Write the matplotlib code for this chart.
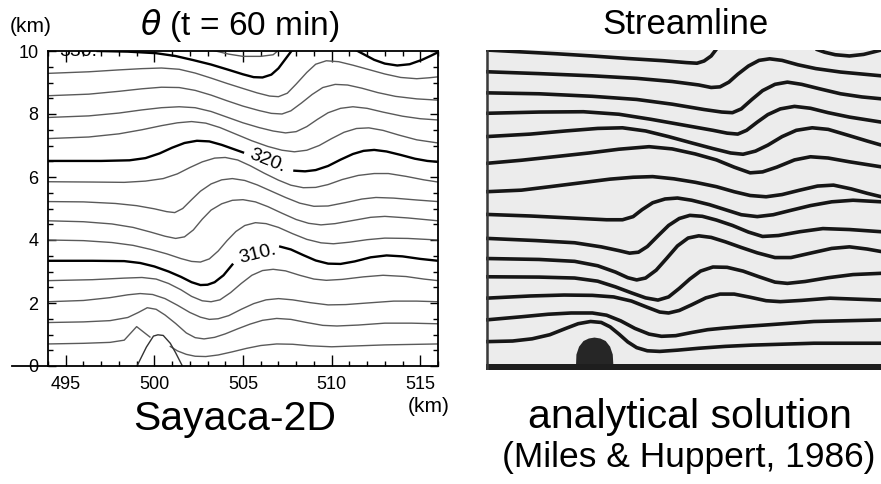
import matplotlib
matplotlib.use("Agg")
import matplotlib.pyplot as plt
from matplotlib.lines import Line2D
from matplotlib.ticker import MultipleLocator

plt.rcParams['font.family'] = ['Liberation Sans', 'DejaVu Sans']
plt.rcParams['mathtext.fontset'] = 'dejavusans'

# ---- left panel: potential temperature contours (x km, z km) ----
th302a = [(494.0, 0.70), (496.0, 0.72), (497.5, 0.75), (498.3, 0.82), (499.0, 1.25), (499.75, 0.92)]
th302b = [(500.9, 0.62), (501.3, 0.48), (501.8, 0.37), (502.3, 0.31), (502.9, 0.30), (503.6, 0.35),
          (504.4, 0.45), (505.2, 0.56), (506.0, 0.65), (506.9, 0.70), (507.8, 0.69), (508.8, 0.64),
          (510.0, 0.61), (511.5, 0.64), (513.0, 0.67), (516.0, 0.70)]
th304 = [(494.0, 1.38), (496.0, 1.40), (497.5, 1.44), (498.5, 1.54), (499.1, 1.70), (499.6, 1.85),
         (500.1, 1.80), (500.6, 1.62), (501.2, 1.35), (501.8, 1.05), (502.3, 0.90), (502.8, 0.86),
         (503.4, 0.91), (504.0, 1.02), (504.7, 1.18), (505.4, 1.33), (506.1, 1.45), (506.9, 1.51),
         (507.7, 1.48), (508.6, 1.38), (509.5, 1.29), (510.3, 1.27), (511.5, 1.30), (513.0, 1.36),
         (514.5, 1.36), (516.0, 1.34)]
th306 = [(494.0, 2.04), (496.0, 2.08), (497.5, 2.17), (498.5, 2.26), (499.2, 2.30), (499.9, 2.27),
         (500.6, 2.14), (501.3, 1.93), (502.0, 1.70), (502.6, 1.55), (503.1, 1.48), (503.6, 1.50),
         (504.2, 1.60), (504.9, 1.80), (505.6, 1.98), (506.3, 2.10), (507.0, 2.14), (507.8, 2.10),
         (508.8, 2.01), (509.8, 1.94), (510.8, 1.95), (512.0, 2.00), (513.5, 2.06), (514.8, 2.06),
         (516.0, 2.04)]
th308 = [(494.0, 2.71), (496.5, 2.74), (498.3, 2.79), (499.3, 2.81), (500.1, 2.76), (500.8, 2.62),
         (501.5, 2.42), (502.1, 2.21), (502.7, 2.07), (503.2, 2.04), (503.7, 2.10), (504.3, 2.33),
         (504.9, 2.62), (505.5, 2.88), (506.1, 3.03), (506.7, 3.07), (507.4, 3.02), (508.2, 2.88),
         (509.0, 2.76), (509.7, 2.72), (510.6, 2.75), (511.8, 2.83), (512.9, 2.88), (514.2, 2.84),
         (515.2, 2.76), (516.0, 2.71)]
th310a = [(494.0, 3.34), (496.5, 3.34), (498.3, 3.33), (499.2, 3.27), (500.0, 3.16), (500.8, 3.00),
          (501.5, 2.83), (502.1, 2.66), (502.6, 2.57), (503.0, 2.58), (503.4, 2.66), (503.9, 2.88),
          (504.4, 3.22)]
th310b = [(507.1, 3.79), (507.7, 3.70), (508.4, 3.52), (509.1, 3.35), (509.8, 3.25), (510.5, 3.24),
          (511.3, 3.32), (512.2, 3.45), (513.1, 3.51), (514.0, 3.48), (515.0, 3.40), (516.0, 3.34)]
th312 = [(494.0, 4.00), (496.0, 3.98), (497.6, 3.92), (498.8, 3.83), (499.8, 3.70), (500.7, 3.56),
         (501.5, 3.41), (502.1, 3.32), (502.6, 3.30), (503.1, 3.40), (503.6, 3.65), (504.1, 3.98),
         (504.6, 4.27), (505.1, 4.46), (505.7, 4.55), (506.3, 4.52), (507.0, 4.40), (507.8, 4.20),
         (508.6, 4.02), (509.4, 3.91), (510.1, 3.88), (511.0, 3.93), (512.0, 4.01), (513.0, 4.06),
         (514.3, 4.05), (516.0, 4.00)]
th314 = [(494.0, 4.61), (496.0, 4.58), (497.6, 4.51), (498.8, 4.40), (499.8, 4.25), (500.6, 4.12),
         (501.2, 4.05), (501.7, 4.10), (502.2, 4.32), (502.7, 4.66), (503.2, 4.95), (503.8, 5.15),
         (504.4, 5.26), (505.0, 5.28), (505.7, 5.21), (506.4, 5.06), (507.2, 4.85), (508.0, 4.65),
         (508.7, 4.53), (509.4, 4.48), (510.2, 4.52), (511.2, 4.62), (512.2, 4.72), (513.0, 4.75),
         (514.3, 4.70), (516.0, 4.61)]
th316 = [(494.0, 5.22), (496.0, 5.21), (497.8, 5.16), (499.0, 5.09), (500.0, 4.99), (500.7, 4.90),
         (501.15, 4.87), (501.6, 5.00), (502.1, 5.28), (502.6, 5.55), (503.2, 5.78), (503.8, 5.91),
         (504.4, 5.95), (505.1, 5.89), (505.8, 5.75), (506.6, 5.55), (507.4, 5.35), (508.2, 5.17),
         (509.0, 5.07), (509.8, 5.08), (510.8, 5.19), (511.7, 5.30), (512.5, 5.35), (513.5, 5.33),
         (514.8, 5.27), (516.0, 5.22)]
th318 = [(494.0, 5.85), (496.5, 5.84), (498.3, 5.83), (499.5, 5.87), (500.5, 5.95), (501.3, 6.10),
         (502.0, 6.30), (502.7, 6.48), (503.4, 6.60), (504.0, 6.62), (504.7, 6.54), (505.4, 6.36),
         (506.2, 6.12), (507.0, 5.90), (507.7, 5.74), (508.4, 5.66), (509.1, 5.67), (509.8, 5.76),
         (510.6, 5.92), (511.5, 6.05), (512.4, 6.11), (513.2, 6.11), (514.2, 6.02), (515.2, 5.91),
         (516.0, 5.84)]
th320a = [(494.0, 6.51), (497.0, 6.51), (498.6, 6.53), (499.5, 6.60), (500.3, 6.75), (501.0, 6.93),
          (501.7, 7.08), (502.4, 7.15), (503.1, 7.13), (503.8, 7.02), (504.4, 6.90), (505.0, 6.78)]
th320b = [(507.9, 6.20), (508.5, 6.18), (509.1, 6.22), (509.8, 6.35), (510.5, 6.55), (511.2, 6.73),
          (511.8, 6.83), (512.4, 6.86), (513.1, 6.81), (513.9, 6.70), (514.7, 6.58), (515.4, 6.51),
          (516.0, 6.48)]
th322 = [(494.0, 7.22), (496.3, 7.27), (498.0, 7.37), (499.3, 7.50), (500.4, 7.63), (501.3, 7.72),
         (502.1, 7.76), (502.9, 7.71), (503.7, 7.57), (504.6, 7.36), (505.5, 7.15), (506.4, 6.97),
         (507.2, 6.85), (507.9, 6.80), (508.6, 6.85), (509.3, 7.00), (510.0, 7.22), (510.7, 7.42),
         (511.4, 7.54), (512.1, 7.56), (512.9, 7.48), (513.8, 7.33), (514.8, 7.18), (516.0, 7.08)]
th324 = [(494.0, 7.89), (496.3, 7.94), (498.0, 8.03), (499.3, 8.13), (500.4, 8.20), (501.4, 8.23),
         (502.3, 8.20), (503.2, 8.08), (504.1, 7.90), (505.0, 7.72), (505.9, 7.57), (506.7, 7.46),
         (507.4, 7.40), (508.0, 7.44), (508.6, 7.60), (509.2, 7.83), (509.8, 8.04), (510.5, 8.18),
         (511.2, 8.23), (512.0, 8.18), (512.9, 8.06), (514.0, 7.93), (515.0, 7.85), (516.0, 7.81)]
th326 = [(494.0, 8.58), (496.3, 8.63), (498.0, 8.72), (499.3, 8.80), (500.4, 8.85), (501.4, 8.84),
         (502.3, 8.75), (503.2, 8.60), (504.1, 8.42), (505.0, 8.25), (505.9, 8.11), (506.6, 8.02),
         (507.2, 8.00), (507.7, 8.10), (508.3, 8.35), (508.9, 8.62), (509.5, 8.84), (510.2, 8.94),
         (510.9, 8.92), (511.7, 8.82), (512.6, 8.68), (513.6, 8.56), (514.8, 8.48), (516.0, 8.44)]
th328 = [(494.0, 9.29), (496.3, 9.34), (498.0, 9.40), (499.3, 9.44), (500.4, 9.46), (501.4, 9.42),
         (502.3, 9.30), (503.2, 9.14), (504.1, 8.97), (505.0, 8.81), (505.8, 8.67), (506.5, 8.57),
         (507.0, 8.55), (507.5, 8.66), (508.0, 8.95), (508.6, 9.32), (509.1, 9.58), (509.7, 9.69),
         (510.4, 9.66), (511.2, 9.55), (512.1, 9.41), (513.0, 9.27), (513.9, 9.16), (514.8, 9.12),
         (515.5, 9.15), (516.0, 9.18)]
th330a = [(496.8, 10.0), (498.5, 9.98), (500.1, 9.93), (501.2, 9.84), (502.2, 9.71), (503.2, 9.57),
          (504.2, 9.40), (505.0, 9.26), (505.6, 9.17), (506.1, 9.16), (506.6, 9.25), (507.0, 9.45),
          (507.4, 9.75), (507.8, 10.05)]
th330b = [(511.3, 10.05), (511.8, 9.90), (512.4, 9.72), (513.0, 9.60), (513.7, 9.54), (514.4, 9.58),
          (515.1, 9.72), (515.6, 9.85), (516.0, 9.96)]
th332 = [(503.3, 10.02), (504.2, 9.90), (505.0, 9.83), (506.0, 9.83), (506.7, 9.88), (507.0, 10.02)]

terrain = [(499.02, 0.0), (499.55, 0.6), (499.95, 0.95), (500.2, 0.99), (500.5, 0.97),
           (500.9, 0.72), (501.2, 0.42), (501.58, 0.0)]

thin_lines = [th302a, th302b, th304, th306, th308, th312, th314, th316, th318,
              th322, th324, th326, th328, th332]
thick_lines = [th310a, th310b, th320a, th320b, th330a, th330b]

# contour labels: text, x, z, rotation
clabels = [("310.", 505.8, 3.55, 14), ("320.", 506.4, 6.50, -22), ("330.", 495.7, 10.0, 0)]

# ---- right panel: analytical streamlines ----
sl01a = [(494.0, 9.97), (496.0, 9.91), (498.0, 9.85), (500.0, 9.78), (502.0, 9.70), (504.0, 9.63),
         (505.3, 9.57), (505.9, 9.55), (506.3, 9.62), (506.7, 9.78), (507.0, 10.0)]
sl01b = [(512.6, 10.0), (513.1, 9.90), (513.7, 9.82), (514.5, 9.78), (515.3, 9.83), (516.3, 9.97)]
sl02 = [(494.0, 9.28), (497.0, 9.22), (500.0, 9.15), (502.5, 9.07), (504.5, 8.97), (506.0, 8.86),
        (506.7, 8.78), (507.2, 8.80), (507.7, 8.95), (508.2, 9.20), (508.8, 9.46), (509.4, 9.64),
        (510.0, 9.69), (510.7, 9.64), (511.6, 9.50), (512.6, 9.38), (514.0, 9.27), (516.3, 9.15)]
sl03 = [(494.0, 8.61), (497.0, 8.58), (500.0, 8.50), (502.5, 8.40), (504.5, 8.25), (506.3, 8.08),
        (507.3, 8.00), (507.9, 7.98), (508.4, 8.10), (509.0, 8.40), (509.6, 8.68), (510.3, 8.88),
        (511.0, 8.95), (511.8, 8.88), (512.8, 8.74), (514.0, 8.58), (515.2, 8.48), (516.3, 8.42)]
sl04 = [(494.0, 7.96), (497.0, 8.00), (499.5, 8.01), (501.5, 7.93), (503.3, 7.77), (505.2, 7.58),
        (506.8, 7.42), (507.6, 7.33), (508.2, 7.30), (508.7, 7.42), (509.3, 7.68), (509.9, 7.92),
        (510.6, 8.10), (511.4, 8.18), (512.3, 8.12), (513.3, 7.98), (514.5, 7.84), (516.3, 7.68)]
sl05 = [(494.0, 7.22), (496.5, 7.30), (498.5, 7.40), (500.3, 7.48), (501.7, 7.50), (503.0, 7.40),
        (504.3, 7.22), (505.6, 7.02), (506.8, 6.84), (507.8, 6.70), (508.5, 6.66), (509.2, 6.76),
        (509.9, 6.95), (510.7, 7.22), (511.5, 7.42), (512.4, 7.50), (513.3, 7.45), (514.5, 7.25),
        (515.5, 7.08), (516.3, 6.95)]
sl06 = [(494.0, 6.37), (496.0, 6.47), (498.0, 6.59), (499.8, 6.70), (501.5, 6.82), (503.2, 6.90),
        (504.5, 6.83), (505.8, 6.67), (507.0, 6.48), (508.0, 6.25), (508.9, 6.07), (509.6, 6.10),
        (510.4, 6.25), (511.4, 6.48), (512.3, 6.58), (513.3, 6.54), (514.5, 6.42), (516.3, 6.26)]
sl07 = [(494.0, 5.47), (496.0, 5.52), (497.6, 5.63), (499.3, 5.75), (501.0, 5.87), (502.3, 5.93),
        (503.4, 5.95), (504.6, 5.88), (505.8, 5.77), (507.0, 5.63), (508.0, 5.47), (508.9, 5.35),
        (509.8, 5.31), (510.7, 5.38), (511.7, 5.52), (512.7, 5.65), (513.6, 5.68), (514.6, 5.56),
        (515.5, 5.42), (516.3, 5.31)]
sl08 = [(494.0, 4.75), (496.5, 4.70), (499.0, 4.63), (500.8, 4.58), (501.7, 4.58), (502.3, 4.68),
        (502.8, 4.90), (503.4, 5.12), (504.1, 5.24), (504.8, 5.27), (505.6, 5.20), (506.6, 5.06),
        (507.5, 4.90), (508.4, 4.74), (509.3, 4.68), (510.2, 4.74), (511.2, 4.88), (512.3, 5.03),
        (513.5, 5.15), (514.7, 5.20), (516.3, 5.15)]
sl09 = [(494.0, 3.99), (496.8, 3.92), (499.0, 3.85), (500.5, 3.72), (501.5, 3.60), (502.1, 3.52),
        (502.6, 3.55), (503.1, 3.73), (503.7, 4.07), (504.3, 4.40), (504.9, 4.62), (505.5, 4.72),
        (506.2, 4.69), (507.0, 4.57), (507.9, 4.40), (508.8, 4.19), (509.6, 4.05), (510.5, 4.08),
        (511.7, 4.20), (513.0, 4.30), (514.5, 4.27), (516.3, 4.20)]
sl10 = [(494.0, 3.35), (497.0, 3.32), (499.0, 3.26), (500.3, 3.12), (501.3, 2.92), (502.0, 2.74),
        (502.5, 2.67), (503.0, 2.73), (503.6, 2.98), (504.2, 3.36), (504.8, 3.75), (505.4, 4.00),
        (506.0, 4.07), (506.7, 4.02), (507.5, 3.88), (508.4, 3.70), (509.3, 3.53), (510.3, 3.38),
        (511.2, 3.38), (512.3, 3.52), (513.5, 3.67), (514.5, 3.72), (515.5, 3.65), (516.3, 3.57)]
sl11 = [(494.0, 2.77), (497.0, 2.76), (499.0, 2.73), (500.3, 2.63), (501.3, 2.45), (502.2, 2.26),
        (503.0, 2.10), (503.7, 2.03), (504.3, 2.13), (504.9, 2.40), (505.5, 2.70), (506.1, 2.95),
        (506.8, 3.08), (507.6, 3.07), (508.5, 2.95), (509.4, 2.77), (510.3, 2.60), (511.0, 2.56),
        (512.0, 2.62), (513.3, 2.74), (514.7, 2.84), (516.3, 2.88)]
sl12 = [(494.0, 2.09), (496.5, 2.16), (498.4, 2.19), (500.0, 2.18), (501.2, 2.13), (502.2, 2.00),
        (503.1, 1.80), (503.8, 1.65), (504.3, 1.62), (504.9, 1.70), (505.6, 1.88), (506.4, 2.10),
        (507.2, 2.22), (508.0, 2.22), (508.9, 2.12), (509.8, 2.01), (510.6, 1.98), (511.8, 2.02),
        (513.4, 2.09), (516.3, 2.03)]
sl13 = [(494.0, 1.40), (496.0, 1.50), (497.5, 1.58), (498.8, 1.62), (500.0, 1.62), (500.8, 1.55),
        (501.6, 1.37), (502.4, 1.13), (503.2, 0.95), (503.9, 0.88), (504.7, 0.90), (505.6, 1.00),
        (506.5, 1.09), (507.4, 1.14), (508.5, 1.19), (509.8, 1.24), (512.5, 1.35), (516.3, 1.40)]
sl14 = [(494.0, 0.71), (495.5, 0.73), (496.6, 0.80), (497.6, 0.93), (498.5, 1.13), (499.2, 1.28),
        (499.9, 1.35), (500.5, 1.32), (501.0, 1.18), (501.5, 0.95), (502.0, 0.70), (502.5, 0.52),
        (503.1, 0.42), (503.8, 0.40), (504.8, 0.44), (506.0, 0.50), (507.5, 0.56), (509.0, 0.60),
        (512.5, 0.66), (516.3, 0.66)]

obstacle = [(499.08, 0.0), (499.1, 0.30), (499.25, 0.55), (499.5, 0.73), (499.8, 0.81), (500.12, 0.84),
            (500.45, 0.81), (500.75, 0.73), (501.0, 0.55), (501.15, 0.30), (501.18, 0.0)]

streamlines = [sl01a, sl01b, sl02, sl03, sl04, sl05, sl06, sl07, sl08, sl09, sl10, sl11, sl12, sl13, sl14]

x_ticks = [495, 500, 505, 510, 515]
z_ticks = [0, 2, 4, 6, 8, 10]

W, H = 881, 484
fig = plt.figure(figsize=(W / 100, H / 100), dpi=100)


def fx(px):
    return px / W


def fy(py):
    return 1 - py / H


def xy(pts):
    return [p[0] for p in pts], [p[1] for p in pts]


# left panel
axL = fig.add_axes([fx(48), fy(366), fx(438) - fx(48), fy(51) - fy(366)])
axL.set_xlim(494, 516)
axL.set_ylim(0, 10)
for ln in thin_lines:
    axL.plot(*xy(ln), color='#5a5a5a', lw=1.0, solid_joinstyle='round')
for ln in thick_lines:
    axL.plot(*xy(ln), color='black', lw=1.7, solid_joinstyle='round')
axL.plot(*xy(terrain), color='#333333', lw=1.0)
for txt, x, z, rot in clabels:
    axL.text(x, z, txt, fontsize=14, rotation=rot, ha='center', va='center',
             rotation_mode='anchor', clip_on=True)

axL.set_xticks(x_ticks)
axL.set_yticks(z_ticks)
axL.xaxis.set_minor_locator(MultipleLocator(1))
axL.yaxis.set_minor_locator(MultipleLocator(0.5))
axL.tick_params(which='both', direction='in', top=True, right=True, labelsize=13, width=1.0)
axL.tick_params(axis='x', which='major', length=8, pad=7)
axL.tick_params(axis='y', which='major', length=6, pad=7)
axL.tick_params(which='minor', length=3.5)
for s in axL.spines.values():
    s.set_linewidth(1.3)

# bottom line extends to the left past the axis
fig.add_artist(Line2D([fx(12), fx(48)], [fy(366), fy(366)], color='black', lw=1.3))

fig.text(fx(31), fy(27), "(km)", fontsize=15, ha='center', va='center')
fig.text(fx(240), fy(26), r"$\theta$ (t = 60 min)", fontsize=24, ha='center', va='center')
fig.text(fx(429), fy(407), "(km)", fontsize=15, ha='center', va='center')
fig.text(fx(235), fy(430), "Sayaca-2D", fontsize=29.5, ha='center', va='baseline')

# right panel
axR = fig.add_axes([fx(486), fy(370), fx(881) - fx(486), fy(50) - fy(370)])
axR.set_xlim(494, 516.28)
axR.set_ylim(-0.19, 9.97)
axR.set_facecolor('#ececec')
for s in axR.spines.values():
    s.set_visible(False)
axR.set_xticks([])
axR.set_yticks([])
for ln in streamlines:
    axR.plot(*xy(ln), color='#161616', lw=2.6, solid_capstyle='butt', solid_joinstyle='round')
axR.fill(*xy(obstacle), color='#262626', lw=0)
axR.axhspan(-0.19, 0.0, color='#1e1e1e', lw=0)
axR.axvline(494.06, color='#3a3a3a', lw=1.8)

fig.text(fx(685), fy(25), "Streamline", fontsize=25, ha='center', va='center')
fig.text(fx(690), fy(428), "analytical solution", fontsize=29.5, ha='center', va='baseline')
fig.text(fx(689), fy(467), "(Miles & Huppert, 1986)", fontsize=25.5, ha='center', va='baseline')

fig.savefig("out.png", dpi=100)
